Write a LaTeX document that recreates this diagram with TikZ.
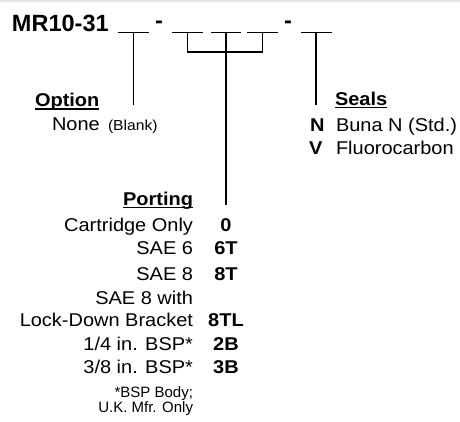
\documentclass[tikz,border=0pt]{standalone}
\usepackage{fontspec}
\setmainfont{Liberation Sans}
\newfontfamily\widefont{Liberation Sans}[FakeStretch=1.08]
\definecolor{topband}{RGB}{226,230,244}
\begin{document}
\begin{tikzpicture}[x=1pt,y=-1pt,
  ln/.style={line width=1.1pt},
  ul/.style={line width=1.2pt},
  body/.style={inner sep=0pt, outer sep=0pt, font=\widefont\fontsize{18.5}{20}\selectfont},
  bodyb/.style={inner sep=0pt, outer sep=0pt, font=\widefont\fontsize{18.5}{20}\selectfont\bfseries},
  small/.style={inner sep=0pt, outer sep=0pt, font=\widefont\fontsize{14.5}{15}\selectfont},
  foot/.style={inner sep=0pt, outer sep=0pt, font=\fontsize{15}{15}\selectfont},
  titlef/.style={inner sep=0pt, outer sep=0pt, font=\fontsize{23.5}{23.5}\selectfont\bfseries}]
\useasboundingbox (0,0) rectangle (460,421);
\fill[topband] (0,0) rectangle (460,2);

% title and separators
\node[titlef, anchor=base west] (title) at (12,31) {MR10-31};
\node[titlef, anchor=base west] (d1) at (155,28) {-};
\node[titlef, anchor=base west] (d2) at (284,28) {-};

% blanks
\coordinate (b1w) at (118,32.5); \coordinate (b1e) at (149,32.5); \coordinate (b1m) at (133.5,32.5);
\coordinate (b2w) at (172,32.5); \coordinate (b2e) at (203,32.5); \coordinate (b2m) at (187.5,32.5);
\coordinate (b3w) at (211,32.5); \coordinate (b3e) at (241,32.5); \coordinate (b3m) at (226,32.5);
\coordinate (b4w) at (247,32.5); \coordinate (b4e) at (278,32.5); \coordinate (b4m) at (262.5,32.5);
\coordinate (b5w) at (301,32.5); \coordinate (b5e) at (332,32.5); \coordinate (b5m) at (316,32.5);
\draw[ln] (b1w) -- (b1e);
\draw[ln] (b2w) -- (b2e);
\draw[ln] (b3w) -- (b3e);
\draw[ln] (b4w) -- (b4e);
\draw[ln] (b5w) -- (b5e);

\coordinate (optend) at (133.5,105);
\coordinate (portend) at (226,205);
\coordinate (sealend) at (316,105);
\coordinate (brl) at (187.5,52);
\coordinate (brr) at (262.5,52);
\draw[ln] (b1m) -- (optend);
\draw[ln] (b2m) -- (brl) -- (brr) -- (b4m);
\draw[ln] (b3m) -- (portend);
\draw[ln] (b5m) -- (sealend);

% Option
\node[bodyb, anchor=base west] (opt) at (35,106.5) {Option};
\draw[ul] ([yshift=-2.5pt]opt.base west) -- ([yshift=-2.5pt]opt.base east);
\node[body, anchor=base west] (none) at (52,130) {None};
\node[small, anchor=base west] (blank) at (108,130) {(Blank)};

% Seals
\node[bodyb, anchor=base west] (seals) at (335,105) {Seals};
\draw[ul] ([yshift=-2.5pt]seals.base west) -- ([yshift=-2.5pt]seals.base east);
\node[bodyb, anchor=base west] (sn) at (310,131.5) {N};
\node[body, anchor=base west] (buna) at (336,131.5) {Buna N (Std.)};
\node[bodyb, anchor=base west] (sv) at (309,154) {V};
\node[body, anchor=base west] (fluoro) at (336,154) {Fluorocarbon};

% Porting
\node[bodyb, anchor=base east] (port) at (193,205) {Porting};
\draw[ul] ([yshift=-2.5pt]port.base west) -- ([yshift=-2.5pt]port.base east);
\node[body, anchor=base east] (p1) at (193,231.5) {Cartridge Only};
\node[bodyb, anchor=base] (c1) at (226,231.5) {0};
\node[body, anchor=base east] (p2) at (193,254) {SAE 6};
\node[bodyb, anchor=base] (c2) at (226,254) {6T};
\node[body, anchor=base east] (p3) at (193,280) {SAE 8};
\node[bodyb, anchor=base] (c3) at (226,280) {8T};
\node[body, anchor=base east] (p4a) at (193,304) {SAE 8 with};
\node[body, anchor=base east] (p4b) at (193,326.5) {Lock-Down Bracket};
\node[bodyb, anchor=base] (c4) at (226,326.5) {8TL};
\node[body, anchor=base east] (p5) at (193,350) {1/4 in. BSP*};
\node[bodyb, anchor=base] (c5) at (226,350) {2B};
\node[body, anchor=base east] (p6) at (193,373) {3/8 in. BSP*};
\node[bodyb, anchor=base] (c6) at (226,373) {3B};
\node[foot, anchor=base east] (f1) at (193,397) {*BSP Body;};
\node[foot, anchor=base east] (f2) at (193,412) {U.K. Mfr. Only};
\end{tikzpicture}
\end{document}
